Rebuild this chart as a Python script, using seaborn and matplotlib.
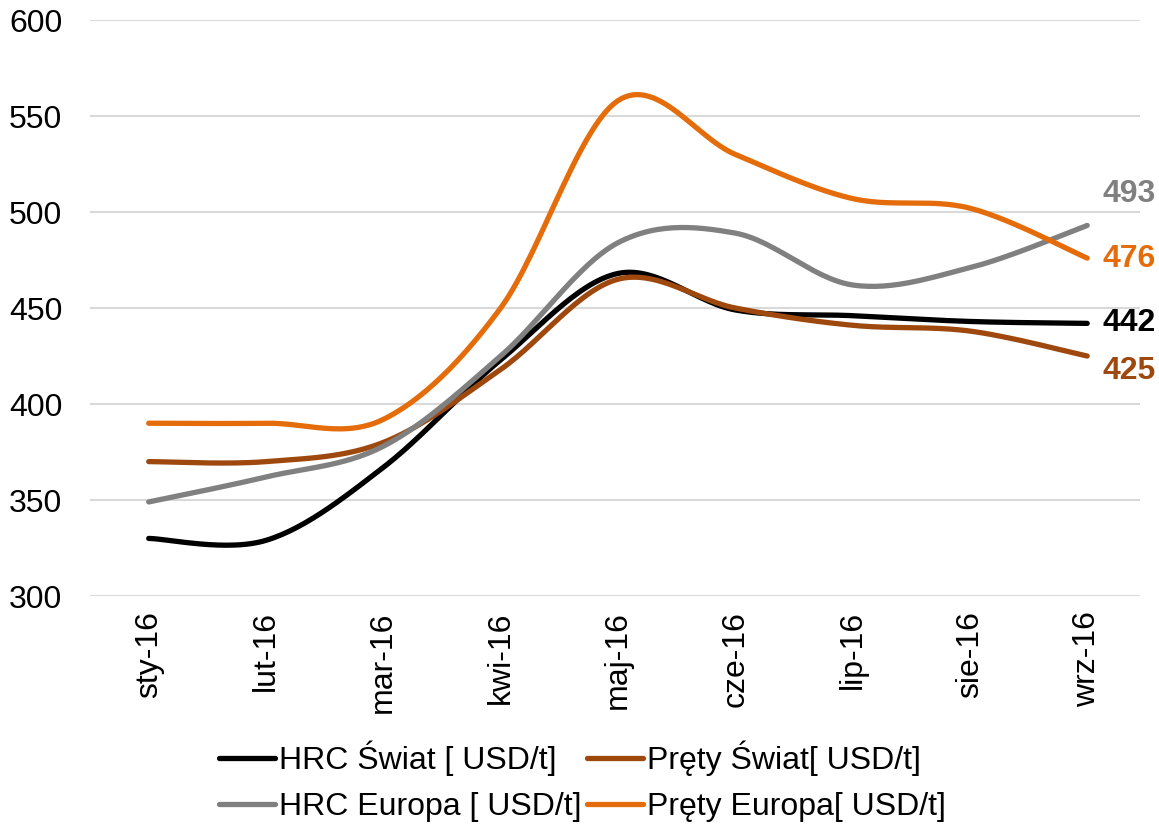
import numpy as np
import pandas as pd
import matplotlib
matplotlib.use("Agg")
import matplotlib.pyplot as plt
import seaborn as sns

# data
months = ["sty-16", "lut-16", "mar-16", "kwi-16", "maj-16", "cze-16", "lip-16", "sie-16", "wrz-16"]
hrc_swiat = [330, 329, 367, 423, 468, 449, 446, 443, 442]
prety_swiat = [370, 370, 380, 418, 465, 450, 441, 438, 425]
hrc_europa = [349, 362, 378, 425, 484, 489, 462, 471, 493]
prety_europa = [390, 390, 392, 450, 558, 530, 507, 502, 476]

series = [
    ("HRC Świat [ USD/t]", hrc_swiat, "#000000"),
    ("Pręty Świat[ USD/t]", prety_swiat, "#9E480E"),
    ("HRC Europa [ USD/t]", hrc_europa, "#808080"),
    ("Pręty Europa[ USD/t]", prety_europa, "#E46C0A"),
]


def smooth(values, n=30):
    """Excel-like smoothed line: Catmull-Rom as cubic Bezier segments"""
    y = np.asarray(values, dtype=float)
    x = np.arange(len(y), dtype=float)
    pts = np.column_stack([x, y])
    out = []
    for i in range(len(pts) - 1):
        p0 = pts[max(i - 1, 0)]
        p1 = pts[i]
        p2 = pts[i + 1]
        p3 = pts[min(i + 2, len(pts) - 1)]
        c1 = p1 + (p2 - p0) / 6
        c2 = p2 - (p3 - p1) / 6
        t = np.linspace(0, 1, n, endpoint=(i == len(pts) - 2))[:, None]
        seg = (1 - t) ** 3 * p1 + 3 * (1 - t) ** 2 * t * c1 + 3 * (1 - t) * t ** 2 * c2 + t ** 3 * p2
        out.append(seg)
    out = np.vstack(out)
    return out[:, 0], out[:, 1]


sns.set_style("white")
plt.rcParams["font.family"] = ["Liberation Sans", "DejaVu Sans"]
plt.rcParams["text.color"] = "black"
plt.rcParams["xtick.color"] = "black"
plt.rcParams["ytick.color"] = "black"

fig = plt.figure(figsize=(11.59, 8.27), dpi=100)
ax = fig.add_axes([0.0777, 0.2793, 0.9059, 0.6965])

handles = {}
for name, vals, color in series:
    xs, ys = smooth(vals)
    df = pd.DataFrame({"x": xs, "y": ys})
    sns.lineplot(data=df, x="x", y="y", ax=ax, color=color, lw=3.8,
                 sort=False, estimator=None, solid_capstyle="round")
    handles[name] = ax.lines[-1]

# end labels
offsets = {"HRC Świat [ USD/t]": 0, "Pręty Świat[ USD/t]": -11,
           "HRC Europa [ USD/t]": 23, "Pręty Europa[ USD/t]": -1}
for name, vals, color in series:
    ax.annotate(str(vals[-1]), xy=(len(vals) - 1, vals[-1]),
                xytext=(11, offsets[name]), textcoords="offset points",
                ha="left", va="center", fontsize=23, fontweight="bold",
                color=color, annotation_clip=False)

ax.set_xlim(-0.5, 8.45)
ax.set_ylim(300, 600)
ax.set_yticks(np.arange(300, 601, 50))
ax.set_xticks(range(len(months)))
ax.set_xticklabels(months, rotation=90)
ax.set_xlabel("")
ax.set_ylabel("")
ax.tick_params(axis="y", length=0, pad=20, labelsize=23)
ax.tick_params(axis="x", length=0, pad=11, labelsize=23)
ax.grid(axis="y", color="#D9D9D9", lw=1.5)
ax.set_axisbelow(True)
for s in ax.spines.values():
    s.set_visible(False)

order = ["HRC Świat [ USD/t]", "HRC Europa [ USD/t]", "Pręty Świat[ USD/t]", "Pręty Europa[ USD/t]"]
fig.legend([handles[k] for k in order], order, loc="center",
           bbox_to_anchor=(0.5026, 0.0556), ncol=2, frameon=False, fontsize=23,
           handlelength=1.75, handletextpad=0.15, columnspacing=0.15,
           labelspacing=0.5, borderaxespad=0)

fig.savefig("out.png", dpi=100)
